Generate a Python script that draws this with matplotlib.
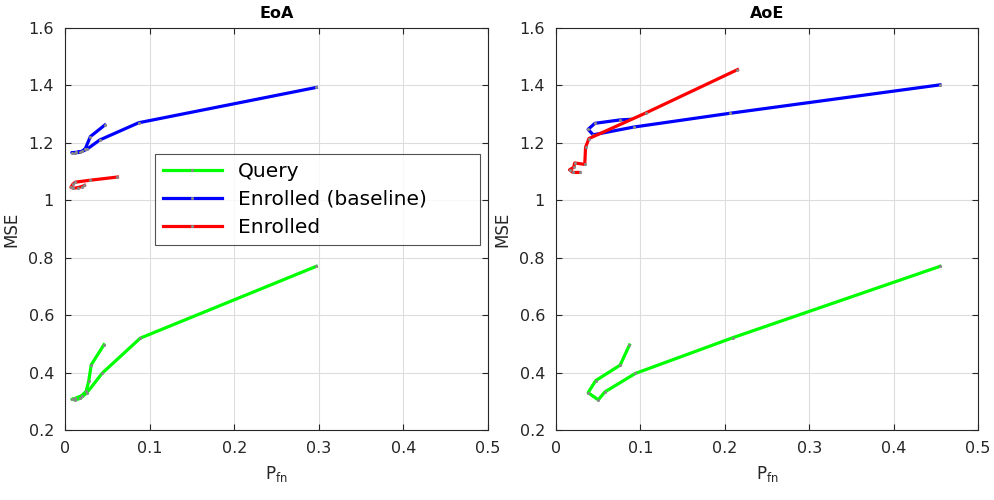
import matplotlib
matplotlib.use('Agg')
import matplotlib.pyplot as plt

plt.rcParams.update({
    'font.family': 'DejaVu Sans',
    'font.size': 11.5,
    'xtick.direction': 'in',
    'ytick.direction': 'in',
})

# ── data ─────────────────────────────────────────────────────────────────────
# EoA
eoa_query_x = [0.297, 0.089, 0.044, 0.026, 0.018, 0.012, 0.008, 0.012, 0.020, 0.025, 0.028, 0.031, 0.046]
eoa_query_y = [0.770, 0.520, 0.398, 0.330, 0.310, 0.305, 0.307, 0.310, 0.320, 0.335, 0.370, 0.427, 0.497]
eoa_base_x = [0.297, 0.087, 0.041, 0.026, 0.018, 0.012, 0.008, 0.013, 0.020, 0.024, 0.030, 0.047]
eoa_base_y = [1.393, 1.270, 1.210, 1.178, 1.168, 1.165, 1.166, 1.167, 1.170, 1.180, 1.222, 1.262]
eoa_enr_x = [0.062, 0.030, 0.012, 0.009, 0.007, 0.010, 0.015, 0.020, 0.023]
eoa_enr_y = [1.081, 1.070, 1.063, 1.055, 1.045, 1.042, 1.044, 1.048, 1.052]

# AoE
aoe_query_x = [0.455, 0.210, 0.094, 0.058, 0.050, 0.038, 0.047, 0.076, 0.087]
aoe_query_y = [0.770, 0.522, 0.397, 0.333, 0.305, 0.330, 0.372, 0.426, 0.496]
aoe_base_x = [0.455, 0.206, 0.092, 0.044, 0.038, 0.046, 0.076, 0.088]
aoe_base_y = [1.402, 1.303, 1.255, 1.228, 1.247, 1.268, 1.280, 1.282]
aoe_enr_x = [0.215, 0.107, 0.039, 0.035, 0.034, 0.022, 0.021, 0.016, 0.020, 0.028]
aoe_enr_y = [1.455, 1.305, 1.215, 1.185, 1.125, 1.130, 1.115, 1.106, 1.097, 1.097]

labels = ['Query', 'Enrolled (baseline)', 'Enrolled']
colors = ['#00FF00', '#0000FF', '#FF0000']

panels = [
    ('EoA', [(eoa_query_x, eoa_query_y), (eoa_base_x, eoa_base_y), (eoa_enr_x, eoa_enr_y)]),
    ('AoE', [(aoe_query_x, aoe_query_y), (aoe_base_x, aoe_base_y), (aoe_enr_x, aoe_enr_y)]),
]

fig = plt.figure(figsize=(9.94, 5.0), dpi=100, facecolor='white')
axes = [fig.add_axes([0.0654, 0.14, 0.4256, 0.804]),
        fig.add_axes([0.5594, 0.14, 0.4245, 0.804])]

for ax, (title, series) in zip(axes, panels):
    for (xs, ys), lab, col in zip(series, labels, colors):
        ax.plot(xs, ys, color=col, lw=2.3, marker='.', ms=2.5,
                mfc='#888888', mec='#888888', label=lab)
    ax.set_xlim(0, 0.5)
    ax.set_ylim(0.2, 1.6)
    ax.set_xticks([0, 0.1, 0.2, 0.3, 0.4, 0.5])
    ax.set_xticklabels(['0', '0.1', '0.2', '0.3', '0.4', '0.5'])
    ax.set_yticks([0.2, 0.4, 0.6, 0.8, 1.0, 1.2, 1.4, 1.6])
    ax.set_yticklabels(['0.2', '0.4', '0.6', '0.8', '1', '1.2', '1.4', '1.6'])
    ax.grid(True, color='#DDDDDD', lw=0.8)
    ax.set_axisbelow(True)
    ax.tick_params(top=True, right=True, length=4, colors='#262626',
                   labelsize=11.5, pad=8)
    for s in ax.spines.values():
        s.set_color('#262626')
        s.set_linewidth(0.8)
    ax.set_title(title, fontsize=11.5, fontweight='bold', pad=7)
    ax.set_xlabel(r'P$_{\mathrm{fn}}$', fontsize=12, color='#262626', labelpad=6)
    ax.set_ylabel('MSE', fontsize=12, color='#262626', labelpad=6)

leg = axes[0].legend(loc='upper left', bbox_to_anchor=(0.213, 0.46, 0.768, 0.227),
                     mode='expand', fontsize=14.5,
                     frameon=True, fancybox=False, edgecolor='#262626',
                     handlelength=2.9, borderpad=0.4, labelspacing=0.45,
                     borderaxespad=0)
leg.get_frame().set_linewidth(0.8)

fig.savefig('out.png', dpi=100, facecolor='white')
